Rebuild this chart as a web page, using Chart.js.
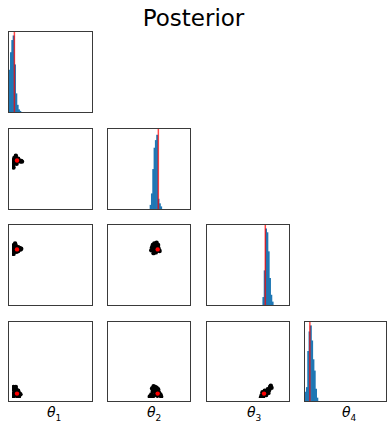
<!DOCTYPE html>
<html>
<head>
<meta charset="utf-8">
<script src="https://cdn.jsdelivr.net/npm/chart.js@4.4.1/dist/chart.umd.min.js"></script>
<style>
  html, body { margin: 0; padding: 0; background: #fff; }
  #wrap { position: relative; width: 387px; height: 426px; overflow: hidden; font-family: 'DejaVu Sans', sans-serif; }
  #wrap canvas { position: absolute; }
  .title { position: absolute; left: 0; width: 387px; top: 3px; text-align: center; font-size: 23px; line-height: 30px; color: #000; }
  .plabel { position: absolute; top: 402px; font-size: 14px; line-height: 20px; color: #000; white-space: nowrap; }
  .plabel i { font-style: italic; }
  .plabel sub { font-size: 9px; vertical-align: -4px; }
</style>
</head>
<body>
<div id="wrap">
  <div class="title">Posterior</div>
</div>
<script>
// Corner plot: histogramme sur la diagonale, nuages de points en dessous
const paramNames = ['1', '2', '3', '4'];
const truths = [0.065, 0.614, 0.711, 0.06];

// histogrammes (centres de classes, hauteurs normalisées)
const hist1X = [0.008, 0.024, 0.040, 0.056, 0.072, 0.088, 0.104, 0.120, 0.136];
const hist1Y = [0.55, 0.78, 0.94, 1.0, 0.62, 0.24, 0.09, 0.03, 0.01];
const hist2X = [0.520, 0.536, 0.552, 0.568, 0.584, 0.600, 0.616, 0.632, 0.648];
const hist2Y = [0.05, 0.2, 0.52, 0.8, 0.9, 0.97, 0.13, 0.07, 0.03];
const hist3X = [0.688, 0.704, 0.720, 0.736, 0.752, 0.768, 0.784, 0.800];
const hist3Y = [0.1, 0.45, 1.0, 0.95, 0.7, 0.35, 0.13, 0.04];
const hist4X = [0.008, 0.024, 0.040, 0.056, 0.072, 0.088, 0.104, 0.120, 0.136, 0.152];
const hist4Y = [0.12, 0.18, 0.66, 0.92, 1.0, 0.8, 0.55, 0.4, 0.16, 0.04];

// échantillons (x, y) pour chaque paire
const samples21 = [[0.01,0.55],[0.02,0.57],[0.03,0.60],[0.04,0.63],[0.05,0.66],[0.06,0.64],[0.07,0.62],[0.08,0.61],[0.09,0.62],[0.10,0.61],[0.11,0.60],[0.12,0.61],[0.13,0.60],[0.02,0.52],[0.04,0.58],[0.06,0.60],[0.03,0.65],[0.05,0.68],[0.01,0.58],[0.02,0.62],[0.08,0.64],[0.06,0.57],[0.04,0.61]];
const samples31 = [[0.01,0.70],[0.02,0.74],[0.03,0.77],[0.04,0.79],[0.05,0.76],[0.06,0.73],[0.07,0.71],[0.08,0.74],[0.09,0.72],[0.10,0.73],[0.11,0.71],[0.12,0.72],[0.03,0.68],[0.05,0.70],[0.02,0.65],[0.04,0.72],[0.06,0.68],[0.08,0.69],[0.01,0.76]];
const samples32 = [[0.53,0.70],[0.54,0.74],[0.55,0.77],[0.56,0.72],[0.57,0.68],[0.58,0.75],[0.59,0.78],[0.60,0.73],[0.61,0.70],[0.62,0.74],[0.63,0.71],[0.64,0.69],[0.56,0.66],[0.59,0.67],[0.62,0.77],[0.57,0.79],[0.60,0.80]];
const samples41 = [[0.01,0.02],[0.02,0.06],[0.03,0.10],[0.04,0.13],[0.05,0.15],[0.06,0.11],[0.07,0.08],[0.08,0.10],[0.09,0.07],[0.10,0.06],[0.11,0.05],[0.03,0.03],[0.05,0.05],[0.07,0.02],[0.01,0.12],[0.02,0.15],[0.09,0.02]];
const samples42 = [[0.51,0.02],[0.53,0.05],[0.55,0.09],[0.54,0.13],[0.56,0.16],[0.58,0.15],[0.60,0.14],[0.62,0.12],[0.63,0.08],[0.65,0.05],[0.66,0.02],[0.57,0.04],[0.59,0.07],[0.61,0.03],[0.56,0.10],[0.60,0.10],[0.55,0.02]];
const samples43 = [[0.67,0.01],[0.68,0.04],[0.70,0.02],[0.70,0.06],[0.72,0.05],[0.73,0.09],[0.75,0.08],[0.76,0.12],[0.78,0.11],[0.79,0.15],[0.81,0.14],[0.80,0.17],[0.74,0.04],[0.72,0.10],[0.77,0.07],[0.69,0.08]];

const hists = [[hist1X, hist1Y], [hist2X, hist2Y], [hist3X, hist3Y], [hist4X, hist4Y]];
const pairs = { '1,0': samples21, '2,0': samples31, '2,1': samples32, '3,0': samples41, '3,1': samples42, '3,2': samples43 };

// bords des cadres (pixels)
const colX0 = [8, 107, 206, 304], colX1 = [92, 190, 289, 386];
const rowY0 = [31, 128, 224, 321], rowY1 = [112, 209, 305, 401];
const labelLeft = [47, 147, 247, 342];

const framePlugin = {
  id: 'frame',
  afterDatasetsDraw(chart) {
    const c = chart.ctx;
    c.save();
    c.strokeStyle = '#3a3a3a';
    c.lineWidth = 1;
    c.strokeRect(0.5, 0.5, chart.width - 1, chart.height - 1);
    c.restore();
  }
};

const wrap = document.getElementById('wrap');

function makeCanvas(r, c) {
  const cv = document.createElement('canvas');
  const w = colX1[c] - colX0[c] + 1, h = rowY1[r] - rowY0[r] + 1;
  cv.width = w; cv.height = h;
  cv.style.left = colX0[c] + 'px'; cv.style.top = rowY0[r] + 'px';
  cv.style.width = w + 'px'; cv.style.height = h + 'px';
  wrap.appendChild(cv);
  return cv;
}

function baseOptions(ymax) {
  return {
    responsive: false, animation: false, events: [],
    layout: { padding: 1 },
    plugins: { legend: { display: false }, tooltip: { enabled: false } },
    scales: {
      x: { type: 'linear', min: 0, max: 1, offset: false, display: false },
      y: { type: 'linear', min: 0, max: ymax, display: false }
    }
  };
}

function renderHist(i) {
  const [xs, ys] = hists[i];
  new Chart(makeCanvas(i, i), {
    type: 'bar',
    data: { datasets: [
      { type: 'line', data: [{ x: truths[i], y: 0 }, { x: truths[i], y: 1.05 }], borderColor: 'rgba(255,0,0,0.72)', borderWidth: 1.5, pointRadius: 0, order: 0, clip: 0 },
      { type: 'bar', data: xs.map((x, k) => ({ x, y: ys[k] })), backgroundColor: '#1f77b4', borderWidth: 0, barPercentage: 1, categoryPercentage: 1, order: 1, clip: 0 }
    ] },
    options: baseOptions(1.05),
    plugins: [framePlugin]
  });
}

function renderScatter(r, c) {
  const pts = pairs[r + ',' + c];
  new Chart(makeCanvas(r, c), {
    type: 'scatter',
    data: { datasets: [
      { data: [{ x: truths[c], y: truths[r] }], backgroundColor: '#ff0000', pointRadius: 2.2, borderWidth: 0, order: 0, clip: 0 },
      { data: pts.map(p => ({ x: p[0], y: p[1] })), backgroundColor: '#000', pointRadius: 2.2, borderWidth: 0, order: 1, clip: 0 }
    ] },
    options: baseOptions(1),
    plugins: [framePlugin]
  });
}

for (let r = 0; r < 4; r++) {
  for (let c = 0; c <= r; c++) {
    if (r === c) renderHist(r); else renderScatter(r, c);
  }
}

paramNames.forEach((n, i) => {
  const d = document.createElement('div');
  d.className = 'plabel';
  d.style.left = labelLeft[i] + 'px';
  d.innerHTML = '<i>θ</i><sub>' + n + '</sub>';
  wrap.appendChild(d);
});
</script>
</body>
</html>
